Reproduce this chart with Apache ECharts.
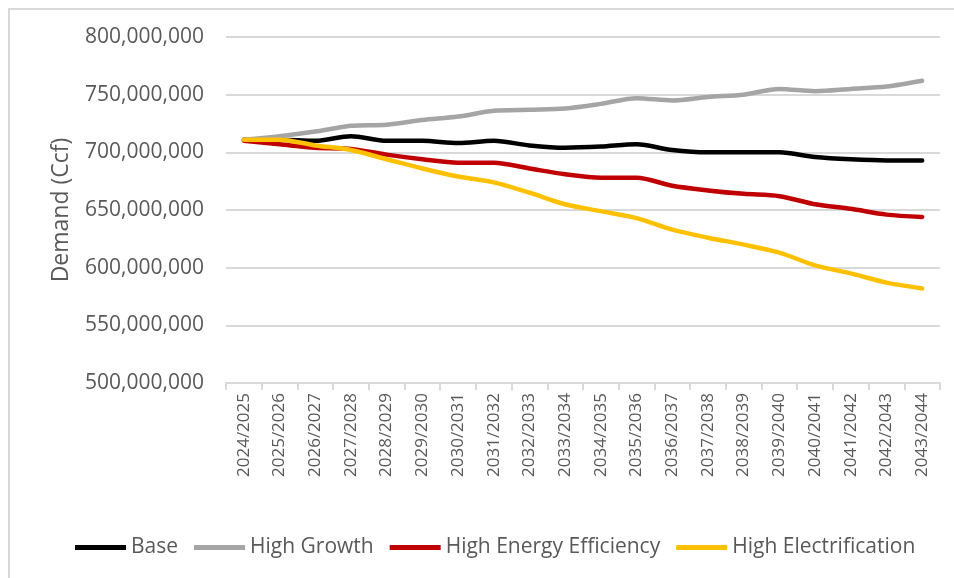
<!DOCTYPE html>
<html>
<head>
<meta charset="utf-8">
<script src="https://cdn.jsdelivr.net/npm/echarts@6/dist/echarts.min.js"></script>
<style>
  html, body { margin: 0; padding: 0; background: #fff; }
  #frame { position: absolute; left: 8px; top: 8px; width: 960px; height: 600px; border-left: 2px solid #d9d9d9; border-top: 2px solid #d9d9d9; box-sizing: border-box; }
  #chart { position: absolute; left: 0; top: 0; width: 954px; height: 578px; }
</style>
</head>
<body>
<div id="frame"></div>
<div id="chart"></div>
<script>
// Gas demand forecast by scenario, in Ccf
const years = ['2024/2025','2025/2026','2026/2027','2027/2028','2028/2029','2029/2030','2030/2031','2031/2032','2032/2033','2033/2034','2034/2035','2035/2036','2036/2037','2037/2038','2038/2039','2039/2040','2040/2041','2041/2042','2042/2043','2043/2044'];

const base = [711e6, 711e6, 710e6, 714e6, 710e6, 710e6, 708e6, 710e6, 706e6, 704e6, 705e6, 707e6, 702e6, 700e6, 700e6, 700e6, 696e6, 694e6, 693e6, 693e6];
const highGrowth = [711e6, 714e6, 718e6, 723e6, 724e6, 728e6, 731e6, 736e6, 737e6, 738e6, 742e6, 747e6, 745e6, 748e6, 750e6, 755e6, 753e6, 755e6, 757e6, 762e6];
const highEfficiency = [710e6, 707e6, 704e6, 703e6, 698e6, 694e6, 691e6, 691e6, 686e6, 681e6, 678e6, 678e6, 671e6, 667e6, 664e6, 662e6, 655e6, 651e6, 646e6, 644e6];
const highElectrification = [711e6, 711e6, 706e6, 702e6, 694e6, 686e6, 679e6, 674e6, 665e6, 655e6, 649e6, 643e6, 633e6, 626e6, 620e6, 613e6, 602e6, 595e6, 587e6, 582e6];

const seriesNames = ['Base', 'High Growth', 'High Energy Efficiency', 'High Electrification'];
const seriesData = [base, highGrowth, highEfficiency, highElectrification];
const seriesColors = ['#000000', '#a5a5a5', '#c00000', '#ffc000'];

const font = '"Open Sans", sans-serif';
const textColor = '#595959';

const chart = echarts.init(document.getElementById('chart'));
chart.setOption({
  animation: false,
  backgroundColor: 'transparent',
  grid: { left: 226, right: 14, top: 37, bottom: 195, containLabel: false },
  legend: {
    left: 70,
    top: 532,
    icon: 'rect',
    itemWidth: 51,
    itemHeight: 5,
    itemGap: 16,
    textStyle: { fontFamily: font, fontSize: 21, color: textColor },
    data: seriesNames
  },
  xAxis: {
    type: 'category',
    data: years,
    boundaryGap: true,
    axisLine: { lineStyle: { color: '#d9d9d9', width: 2 } },
    axisTick: { show: true, length: 7, lineStyle: { color: '#d9d9d9', width: 2 } },
    axisLabel: { rotate: 90, interval: 0, margin: 10, fontFamily: font, fontSize: 17, color: textColor }
  },
  yAxis: {
    type: 'value',
    min: 500000000,
    max: 800000000,
    interval: 50000000,
    name: 'Demand (Ccf)',
    nameLocation: 'middle',
    nameGap: 153,
    nameTextStyle: { fontFamily: font, fontSize: 23, color: textColor },
    axisLine: { show: false },
    axisTick: { show: false },
    splitLine: { lineStyle: { color: '#d9d9d9', width: 2 } },
    axisLabel: {
      margin: 22,
      fontFamily: font,
      fontSize: 21,
      color: textColor,
      formatter: v => v.toLocaleString('en-US')
    }
  },
  series: seriesNames.map((name, i) => ({
    name,
    type: 'line',
    data: seriesData[i],
    smooth: 0.3,
    symbol: 'none',
    lineStyle: { color: seriesColors[i], width: 4.5, cap: 'round', join: 'round' },
    itemStyle: { color: seriesColors[i] }
  }))
});
</script>
</body>
</html>
